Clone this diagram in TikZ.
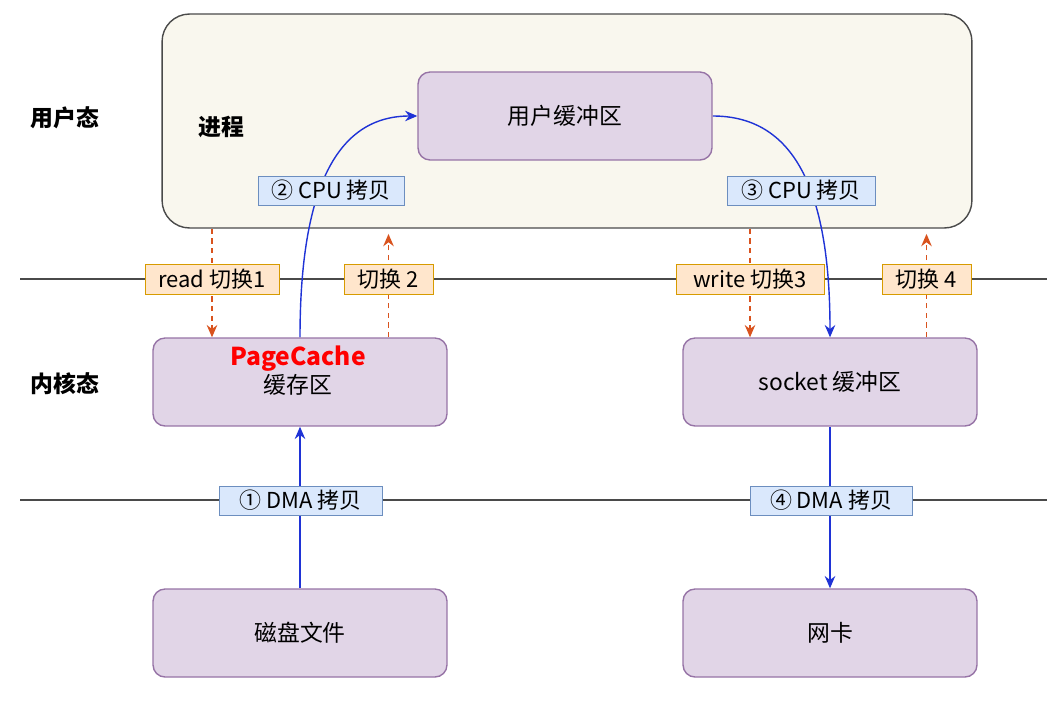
\documentclass[tikz,border=0pt]{standalone}
\usepackage{fontspec}
\setmainfont{Noto Sans CJK SC}
\usetikzlibrary{arrows.meta,positioning}
\definecolor{procfill}{HTML}{F9F7EE}
\definecolor{procline}{HTML}{4A4A4A}
\definecolor{purpfill}{HTML}{E1D5E7}
\definecolor{purpline}{HTML}{9673A6}
\definecolor{bluefill}{HTML}{DAE8FC}
\definecolor{blueline}{HTML}{6C8EBF}
\definecolor{orfill}{HTML}{FFE6CC}
\definecolor{orline}{HTML}{D79B00}
\definecolor{swarrow}{HTML}{D9531E}
\definecolor{cparrow}{HTML}{1F33D6}
\pgfdeclarelayer{back}
\pgfdeclarelayer{mid}
\pgfsetlayers{back,mid,main}

\begin{document}
\begin{tikzpicture}[x=0.02cm,y=-0.02cm,
    txt/.style={font=\fontsize{13}{16}\selectfont},
    side/.style={font=\fontsize{13}{16}\selectfont\bfseries},
    box/.style={draw=purpline, fill=purpfill, thick, rounded corners=0.24cm,
      minimum width=5.88cm, minimum height=1.76cm, txt},
    cplabel/.style={draw=blueline, fill=bluefill, inner xsep=2pt, inner ysep=0pt,
      minimum height=0.58cm, font=\fontsize{12.5}{14}\selectfont},
    swlabel/.style={draw=orline, fill=orfill, inner xsep=2pt, inner ysep=0pt,
      minimum height=0.6cm, font=\fontsize{12.5}{14}\selectfont},
    cp/.style={draw=cparrow, thick, -{Stealth[length=7pt,width=6pt]}},
    sw/.style={draw=swarrow, thick, dash pattern=on 3pt off 2.5pt,
      -{Stealth[length=7pt,width=6pt]}},
    rule/.style={draw=procline, thick}]
    \useasboundingbox (0,0) rectangle (1047,703);

    % user space
    \begin{pgfonlayer}{back}
      \node[draw=procline, fill=procfill, thick, rounded corners=0.55cm,
        minimum width=16.2cm, minimum height=4.28cm] (proc) at (567,121) {};
    \end{pgfonlayer}
    \node[side] (user) at (65,118) {用户态};
    \node[side] (proclabel) at (221,127) {进程};
    \node[box] (ubuf) at (565,116) {用户缓冲区};

    % kernel space
    \node[side] (kernel) at (65,384) {内核态};
    \node[box] (cache) at (300,382) {};
    \node[text=red, font=\fontsize{14}{16}\selectfont\bfseries] (pc) at (298,359) {PageCache};
    \node[txt] (cachetxt) at (298,385) {缓存区};
    \node[box] (sock) at (830,382) {socket 缓冲区};

    % devices
    \node[box] (disk) at (300,633) {磁盘文件};
    \node[box] (nic) at (830,633) {网卡};

    % labels
    \node[cplabel, minimum width=2.92cm] (cpu2) at (331,190.5) {② CPU 拷贝};
    \node[cplabel, minimum width=2.96cm] (cpu3) at (801,190.5) {③ CPU 拷贝};
    \node[cplabel, minimum width=3.26cm] (dma1) at (300.5,500.5) {① DMA 拷贝};
    \node[cplabel, minimum width=3.24cm] (dma4) at (831,500.5) {④ DMA 拷贝};
    \node[swlabel, minimum width=2.68cm] (sw1) at (212,279) {read 切换1};
    \node[swlabel, minimum width=1.78cm] (sw2) at (388.5,279) {切换 2};
    \node[swlabel, minimum width=2.96cm] (sw3) at (750,279) {write 切换3};
    \node[swlabel, minimum width=1.78cm] (sw4) at (926.5,279) {切换 4};

    \begin{pgfonlayer}{mid}
      \draw[rule] (20,279) -- (1047,279);
      \draw[rule] (20,500) -- (1047,500);
      % context switches
      \draw[sw] (proc.south -| sw1) -- (cache.north -| sw1);
      \draw[sw, shorten >=3pt] (cache.north -| sw2) -- (proc.south -| sw2);
      \draw[sw] (proc.south -| sw3) -- (sock.north -| sw3);
      \draw[sw, shorten >=3pt] (sock.north -| sw4) -- (proc.south -| sw4);
      % copies
      \draw[cp] (disk.north) -- (cache.south);
      \draw[cp] (cache.north) .. controls +(0,-150) and +(-80,0) .. (ubuf.west);
      \draw[cp] (ubuf.east) .. controls +(80,0) and +(0,-150) .. (sock.north);
      \draw[cp] (sock.south) -- (nic.north);
    \end{pgfonlayer}
\end{tikzpicture}
\end{document}
